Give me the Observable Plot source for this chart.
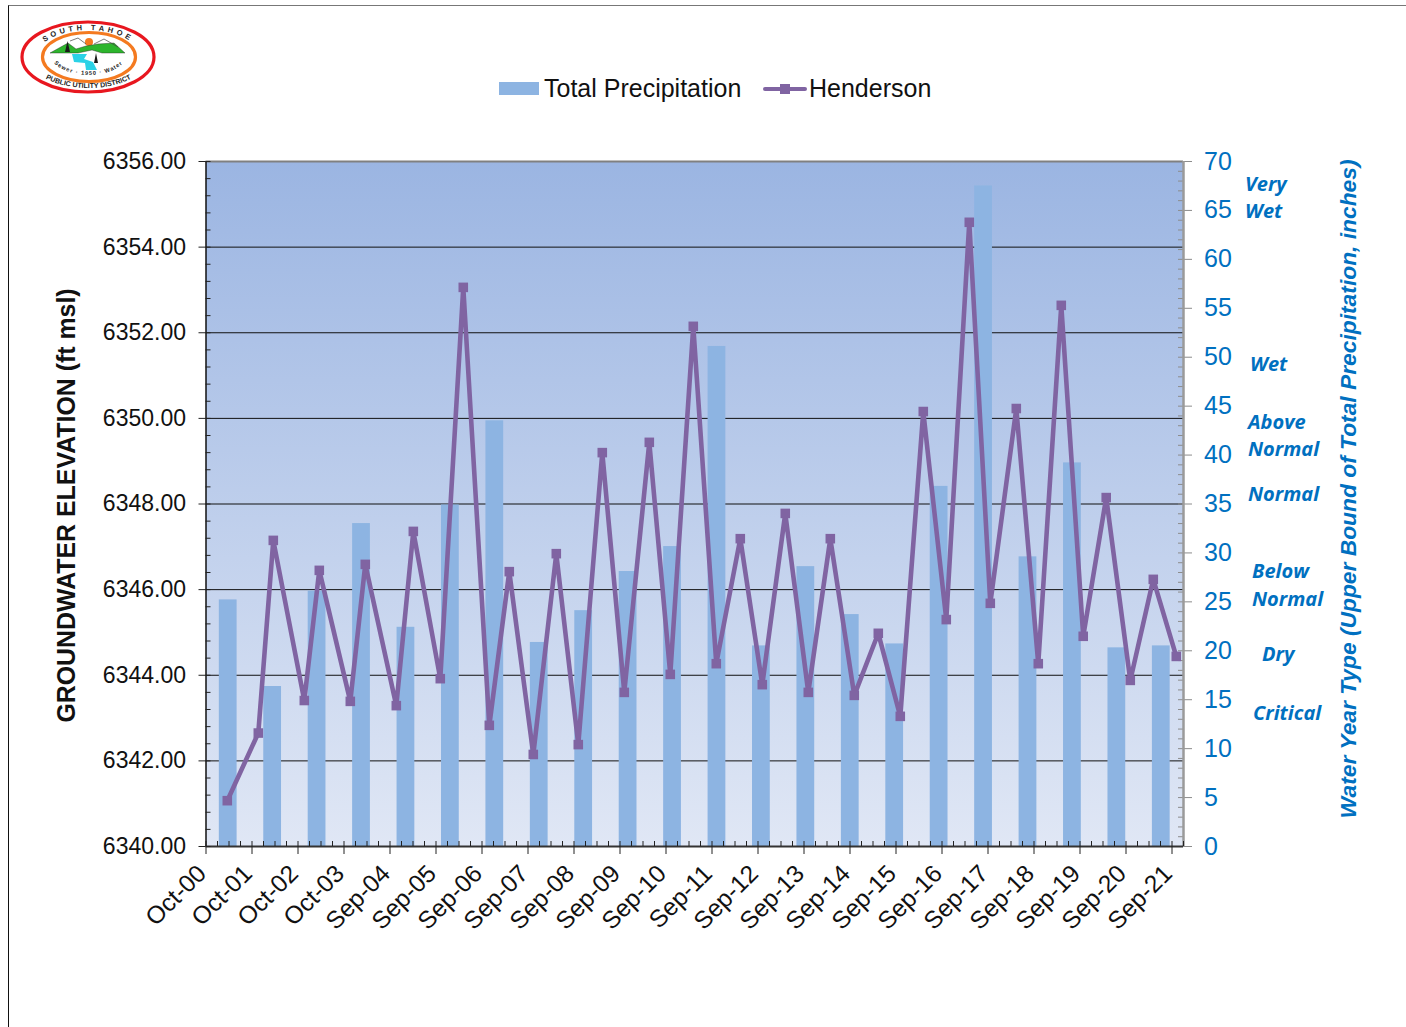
<!DOCTYPE html>
<html>
<head>
<meta charset="utf-8">
<script src="https://cdn.jsdelivr.net/npm/d3@7"></script>
<script src="https://cdn.jsdelivr.net/npm/@observablehq/plot@0.6"></script>
<style>
html,body{margin:0;padding:0;background:#fff;}
#page{position:relative;width:1406px;height:1027px;overflow:hidden;font-family:"Liberation Sans",Arial,sans-serif;}
#frame{position:absolute;left:7.5px;top:5px;right:-4px;bottom:-4px;border-left:1px solid #111;border-top:1.5px solid #777;}
#legend div{position:absolute;}
#logo{position:absolute;left:18px;top:19px;}
</style>
</head>
<body>
<div id="page">
<div id="frame"></div>
<svg id="logo" width="140" height="78" viewBox="0 0 140 78">
  <defs>
    <path id="arcTop" d="M18 38 A52 27 0 0 1 122 38"/>
    <path id="arcBot" d="M11 38 A59.5 31 0 0 0 130 38"/>
    <path id="arcMid" d="M31 33 A39.5 23 0 0 0 110 33"/>
  </defs>
  <ellipse cx="70" cy="38" rx="66" ry="35" fill="#fff" stroke="#e8171f" stroke-width="3.2"/>
  <ellipse cx="71" cy="38" rx="46.5" ry="24.5" fill="#fff" stroke="#f47a20" stroke-width="3.2"/>
  <circle cx="71" cy="23" r="4" fill="#f47a20"/>
  <path d="M32 34 L50 24 L58 30 L68 27 L80 25 L96 24 L107 34 L84 34 L74 31 L60 34 Z" fill="#2db52d" stroke="#222" stroke-width=".4"/>
  <path d="M52 22 L60 19 L68 25 M76 25 L86 20 L100 28" fill="none" stroke="#444" stroke-width=".7"/>
  <path d="M54 35 L56 43 L67 44 L68 51 L79 51 L75 43 L66 40 L69 35 Z" fill="#2bd2e6"/>
  <path d="M47 33 L49.5 22 L52 33 Z M76 44 L78 34 L80 44 Z" fill="#1a1a1a"/>
  <text font-family="Liberation Sans" font-size="7.5" font-weight="700" letter-spacing="3.4" fill="#222"><textPath href="#arcTop" startOffset="50%" text-anchor="middle">SOUTH TAHOE</textPath></text>
  <text font-family="Liberation Sans" font-size="7" font-weight="700" fill="#222"><textPath href="#arcBot" startOffset="50%" text-anchor="middle">PUBLIC UTILITY DISTRICT</textPath></text>
  <text font-family="Liberation Sans" font-size="5.6" font-weight="700" letter-spacing="1" fill="#222"><textPath href="#arcMid" startOffset="50%" text-anchor="middle">Sewer · 1950 · Water</textPath></text>
</svg>
<div id="legend">
  <div style="left:499px;top:82px;width:40px;height:13px;background:#8db4e2"></div>
  <div style="left:544px;top:74px;font-size:25px;line-height:29px;color:#111">Total Precipitation</div>
  <div style="left:763px;top:86.5px;width:44px;height:4px;background:#8064a2;border-radius:2px"></div>
  <div style="left:780px;top:83.5px;width:10px;height:10px;background:#8064a2"></div>
  <div style="left:809px;top:74px;font-size:25px;line-height:29px;color:#111">Henderson</div>
</div>
</div>
<script>
// Precipitation bars, one per water year
const precipYears = ["2001","2002","2003","2004","2005","2006","2007","2008","2009","2010","2011","2012","2013","2014","2015","2016","2017","2018","2019","2020","2021","2022"];
const precipInches = [25.2,16.35,26.1,33,22.4,34.9,43.5,20.85,24.1,28.1,30.65,51.1,20.5,28.6,23.7,20.7,36.8,67.5,29.6,39.2,20.3,20.5];

// Henderson well: years after Oct-00, and groundwater elevation
const hendersonYears = [0.463,1.137,1.463,2.137,2.463,3.137,3.463,4.137,4.507,5.093,5.593,6.159,6.593,7.115,7.615,8.093,8.615,9.093,9.637,10.093,10.593,11.093,11.615,12.093,12.593,13.093,13.572,14.093,14.615,15.093,15.593,16.093,16.593,17.05,17.615,18.093,18.593,19.07,19.57,20.093,20.593,21.093];
const hendersonElevation = [6341.07,6342.65,6347.15,6343.41,6346.45,6343.39,6346.59,6343.29,6347.36,6343.92,6353.06,6342.83,6346.42,6342.15,6346.84,6342.38,6349.20,6343.60,6349.44,6344.02,6352.15,6344.27,6347.19,6343.78,6347.78,6343.60,6347.19,6343.53,6344.98,6343.04,6350.16,6345.30,6354.58,6345.68,6350.23,6344.27,6352.64,6344.91,6348.15,6343.88,6346.24,6344.44];

const xTickLabels = ["Oct-00","Oct-01","Oct-02","Oct-03","Sep-04","Sep-05","Sep-06","Sep-07","Sep-08","Sep-09","Sep-10","Sep-11","Sep-12","Sep-13","Sep-14","Sep-15","Sep-16","Sep-17","Sep-18","Sep-19","Sep-20","Sep-21"];
const elevationTicks = [6340,6342,6344,6346,6348,6350,6352,6354,6356];
const precipTicks = [0,5,10,15,20,25,30,35,40,45,50,55,60,65,70];

const W = 1406, H = 1027;
const frame = {width:W, height:H, marginTop:161, marginBottom:181, marginLeft:205.5, marginRight:223};
const tickFont = "Liberation Sans";
const style = {background:"transparent", fontFamily:tickFont, overflow:"visible", position:"absolute", left:"0", top:"0"};
const blue = "#0070c0", purple = "#8064a2";
const xDomain = [0, 21.25];
const page = document.getElementById("page");

// Layer 1: gradient panel and gridlines (elevation scale)
const back = Plot.plot({...frame, style,
  x:{domain:xDomain, axis:null},
  y:{domain:[6340,6356], axis:null},
  marks:[
    () => {
      const s = d3.create("svg:defs");
      const g = s.append("linearGradient").attr("id","panel").attr("x1",0).attr("y1",0).attr("x2",0).attr("y2",1);
      g.append("stop").attr("offset","0%").attr("stop-color","#9bb5e2");
      g.append("stop").attr("offset","100%").attr("stop-color","#e0e7f5");
      return s.node();
    },
    Plot.frame({fill:"url(#panel)", stroke:"none"}),
    Plot.ruleY(elevationTicks.slice(1,-1), {stroke:"#111", strokeWidth:1})
  ]});
page.appendChild(back);

// Layer 2: precipitation bars with right-hand axis
const typeLabel = (text, value, dx) => Plot.text([text], {
  y:() => value, frameAnchor:"right", textAnchor:"start", dx,
  fontFamily:"Open Sans", fontWeight:700, fontStyle:"italic", fontSize:20, fill:blue});
const bars = Plot.plot({...frame, style,
  x:{domain:precipYears, paddingInner:0.6, paddingOuter:0.3, align:0.5, round:false, axis:null},
  y:{domain:[0,70], axis:null},
  marks:[
    Plot.barY(precipYears, {x:d=>d, y:(d,i)=>precipInches[i], fill:"#8db4e2"}),
    Plot.axisY(d3.range(0,71,1), {anchor:"right", tickSize:-6, tickFormat:()=>"", stroke:"#8c8c8c", label:null}),
    Plot.axisY(precipTicks, {anchor:"right", tickSize:8, tickPadding:12.5, fontSize:25, fill:blue, stroke:"#8c8c8c", tickFormat:d=>d, textAnchor:"start", label:null}),
    typeLabel("Very",67.6,61.5), typeLabel("Wet",64.85,61.5),
    typeLabel("Wet",49.25,66.5),
    typeLabel("Above",43.3,64.5), typeLabel("Normal",40.6,64.5),
    typeLabel("Normal",35.95,64.5),
    typeLabel("Below",28.1,68.5), typeLabel("Normal",25.2,68.5),
    typeLabel("Dry",19.6,78.5),
    typeLabel("Critical",13.6,69.5),
    Plot.text(["Water Year Type (Upper Bound of Total Precipitation, inches)"], {
      frameAnchor:"middle", dx:653.5, dy:-15, rotate:-90, fontFamily:tickFont, fontWeight:700, fontStyle:"italic", fontSize:22.8, fill:blue})
  ]});
page.appendChild(bars);

// Layer 3: Henderson line with left and bottom axes
const line = Plot.plot({...frame, style,
  x:{domain:xDomain, axis:null},
  y:{domain:[6340,6356], axis:null},
  marks:[
    Plot.ruleY([6356], {stroke:"#808080", strokeWidth:2}),
    Plot.ruleX([xDomain[1]], {stroke:"#9a9a9a", strokeWidth:2.5}),
    Plot.ruleX([0], {stroke:"#111", strokeWidth:1.5}),
    Plot.ruleY([6340], {stroke:"#333", strokeWidth:2}),
    Plot.axisY(d3.range(6340,6356.01,0.4), {anchor:"left", tickSize:-5, tickFormat:()=>"", stroke:"#222", label:null}),
    Plot.axisY(elevationTicks, {anchor:"left", tickSize:7, tickPadding:13, fontSize:23, fill:"#111", stroke:"#222", tickFormat:d=>d.toFixed(2), label:null}),
    Plot.axisX(d3.range(0,21.26,0.25), {anchor:"bottom", tickSize:-5, tickFormat:()=>"", stroke:"#222", label:null}),
    Plot.axisX(d3.range(0,22), {anchor:"bottom", tickSize:8, tickFormat:()=>"", stroke:"#222", label:null}),
    Plot.axisX(d3.range(0,22), {anchor:"bottom", tickSize:0, tickPadding:23, dx:-4, tickRotate:-45, fontSize:24.5, fill:"#111", tickFormat:d=>xTickLabels[d], label:null}),
    Plot.text(["GROUNDWATER ELEVATION (ft msl)"], {frameAnchor:"middle", dx:-627.5, dy:1.5, rotate:-90, fontWeight:700, fontSize:24.9, fill:"#111"}),
    Plot.line(hendersonYears, {x:d=>d, y:(d,i)=>hendersonElevation[i], stroke:purple, strokeWidth:4.6, curve:"linear"}),
    Plot.dot(hendersonYears, {x:d=>d, y:(d,i)=>hendersonElevation[i], symbol:"square", r:5.4, fill:purple, stroke:"none"})
  ]});
page.appendChild(line);
</script>
</body>
</html>
